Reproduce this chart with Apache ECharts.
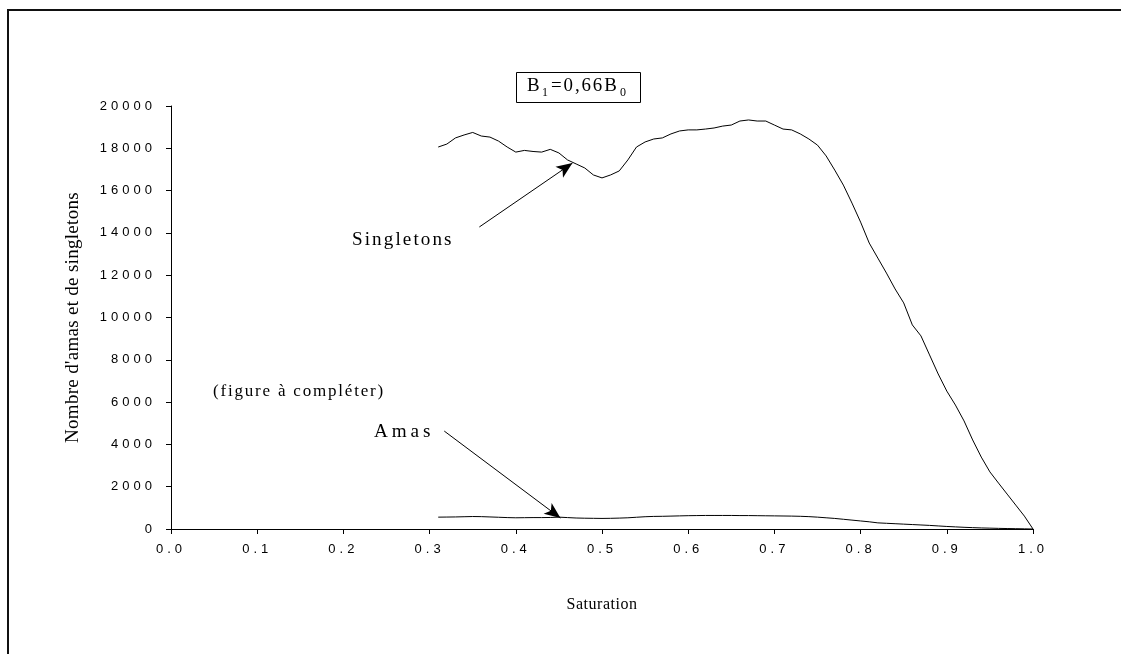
<!DOCTYPE html>
<html>
<head>
<meta charset="utf-8">
<script src="https://cdn.jsdelivr.net/npm/echarts@6/dist/echarts.min.js"></script>
<style>
html,body{margin:0;padding:0;background:#fff;}
#chart{width:1121px;height:654px;}
</style>
</head>
<body>
<div id="chart"></div>
<script>
// ---- data ----
const saturation = [0.31,0.32,0.33,0.34,0.35,0.36,0.37,0.38,0.39,0.40,0.41,0.42,0.43,0.44,0.45,0.46,0.47,0.48,0.49,0.50,
  0.51,0.52,0.53,0.54,0.55,0.56,0.57,0.58,0.59,0.60,0.61,0.62,0.63,0.64,0.65,0.66,0.67,0.68,0.69,0.70,
  0.71,0.72,0.73,0.74,0.75,0.76,0.77,0.78,0.79,0.80,0.81,0.82,0.83,0.84,0.85,0.86,0.87,0.88,0.89,0.90,
  0.91,0.92,0.93,0.94,0.95,0.96,0.97,0.98,0.99,1.00];
const singletons = [18060,18200,18490,18630,18750,18580,18530,18340,18060,17820,17900,17850,17820,17950,17780,17450,17260,17070,16740,16600,
  16740,16930,17450,18060,18300,18440,18490,18680,18820,18870,18870,18910,18960,19050,19100,19290,19340,19290,19290,19100,
  18910,18870,18680,18440,18150,17640,16970,16260,15410,14510,13520,12810,12100,11350,10690,9650,9130,8230,7330,6520,
  5860,5110,4210,3400,2700,2170,1650,1130,610,0];
const amas = [560,565,570,580,590,585,570,555,540,530,535,540,540,545,560,540,520,510,505,500,
  505,515,530,555,580,595,600,610,620,630,635,640,640,640,640,635,635,630,625,620,
  615,610,600,585,560,530,500,460,420,380,340,290,270,250,230,210,190,170,145,120,
  100,80,65,50,40,30,22,15,8,0];
const xTicks = ['0.0','0.1','0.2','0.3','0.4','0.5','0.6','0.7','0.8','0.9','1.0'];
const yTicks = ['0','2000','4000','6000','8000','10000','12000','14000','16000','18000','20000'];

// letter spacing for the widely spaced text of the original (keyed by font size)
const LS_RULES = [['13px','4px'],['19px','0.3px'],['19.1px','2.1px'],['19.2px','3.9px'],['17px','1.8px'],['18.9px','1.9px'],['16px','0.5px']];
(function(){
  const P = CanvasRenderingContext2D.prototype;
  if (!('letterSpacing' in P)) return;
  const ls = (ctx)=>{ const f = ctx.font; let v='0px'; for (const r of LS_RULES){ if (f.indexOf(' '+r[0])>=0 || f.indexOf(r[0])===0){ v=r[1]; break; } } ctx.letterSpacing = v; };
  const of = P.fillText, os = P.strokeText, om = P.measureText;
  P.fillText = function(){ ls(this); return of.apply(this, arguments); };
  P.strokeText = function(){ ls(this); return os.apply(this, arguments); };
  P.measureText = function(){ ls(this); return om.apply(this, arguments); };
})();

const serif = '"Liberation Serif","Times New Roman",serif';
const sans = '"Liberation Sans",Arial,sans-serif';

const chart = echarts.init(document.getElementById('chart'), null, {renderer:'canvas'});
const pairs = (ys) => saturation.map((x,i)=>[x, ys[i]]);

chart.setOption({
  animation:false,
  backgroundColor:'#fff',
  grid:{left:171, right:88, top:106, bottom:125, containLabel:false},
  xAxis:{
    type:'value', min:0, max:1, interval:0.1,
    name:'Saturation', nameLocation:'middle', nameGap:68,
    nameTextStyle:{fontFamily:serif, fontSize:16, color:'#000'},
    axisLine:{lineStyle:{color:'#000', width:1}},
    axisTick:{show:true, length:5, lineStyle:{color:'#000'}},
    axisLabel:{color:'#000', fontFamily:sans, fontSize:13, margin:12,
      formatter:(v)=>xTicks[Math.round(v*10)]},
    splitLine:{show:false}
  },
  yAxis:{
    type:'value', min:0, max:20000, interval:2000,
    name:"Nombre d'amas et de singletons", nameLocation:'middle', nameGap:88,
    nameTextStyle:{fontFamily:serif, fontSize:19, color:'#000'},
    axisLine:{show:true, lineStyle:{color:'#000', width:1}},
    axisTick:{show:true, length:5, lineStyle:{color:'#000'}},
    axisLabel:{color:'#000', fontFamily:sans, fontSize:13, margin:15,
      formatter:(v)=>yTicks[Math.round(v/2000)]},
    splitLine:{show:false}
  },
  series:[
    {
      name:'Singletons', type:'line', data:pairs(singletons), showSymbol:false, symbol:'none',
      lineStyle:{color:'#000', width:1}, z:3,
      markLine:{
        silent:true, symbol:['none','arrow'], symbolSize:[10,16],
        lineStyle:{color:'#000', width:1, type:'solid'}, label:{show:false},
        data:[[{coord:[0.3577,14280]},{coord:[0.4657,17300]}]]
      }
    },
    {
      name:'Amas', type:'line', data:pairs(amas), showSymbol:false, symbol:'none',
      lineStyle:{color:'#000', width:1}, z:3,
      markLine:{
        silent:true, symbol:['none','arrow'], symbolSize:[10,16],
        lineStyle:{color:'#000', width:1, type:'solid'}, label:{show:false},
        data:[[{coord:[0.317,4630]},{coord:[0.4518,520]}]]
      }
    }
  ],
  graphic:[
    {type:'rect', shape:{x:8, y:10, width:1300, height:1000}, style:{fill:'none', stroke:'#111', lineWidth:2}, silent:true},
    {type:'rect', shape:{x:516.5, y:72.5, width:124, height:30}, style:{fill:'#fff', stroke:'#000', lineWidth:1}, silent:true},
    {type:'text', x:527, y:76, style:{text:'B', font:'18.9px '+serif, fill:'#000'}},
    {type:'text', x:542, y:87, style:{text:'1', font:'12px '+serif, fill:'#000'}},
    {type:'text', x:551, y:76, style:{text:'=0,66B', font:'18.9px '+serif, fill:'#000'}},
    {type:'text', x:620, y:87, style:{text:'0', font:'12px '+serif, fill:'#000'}},
    {type:'text', x:352, y:229, style:{text:'Singletons', font:'19.1px '+serif, fill:'#000'}},
    {type:'text', x:374, y:421, style:{text:'Amas', font:'19.2px '+serif, fill:'#000'}},
    {type:'text', x:213, y:382, style:{text:'(figure à compléter)', font:'17px '+serif, fill:'#000'}}
  ]
});
</script>
</body>
</html>
